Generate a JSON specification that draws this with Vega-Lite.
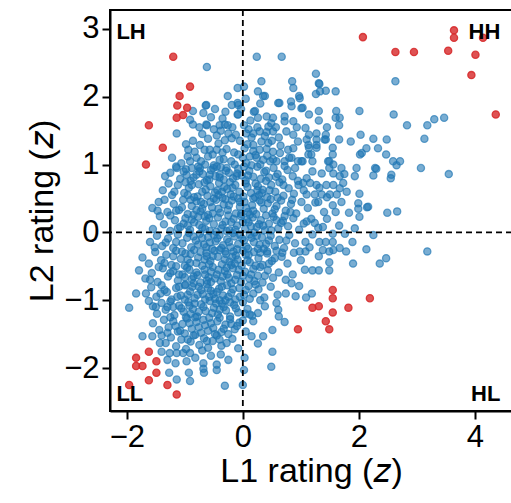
{
"$schema":"https://vega.github.io/schema/vega-lite/v6.json",
"autosize":{"type":"none"},
"padding":{"left":110,"top":10,"right":0,"bottom":92},
"width":402,"height":401,
"config":{"view":{"stroke":"black","strokeWidth":2},"font":"Liberation Sans",
"axis":{"grid":false,"domainColor":"black","domainWidth":2,"tickColor":"black","tickWidth":2,"tickSize":8,"labelFontSize":31,"labelColor":"black","labelFont":"Liberation Sans","titleFont":"Liberation Sans","titleFontSize":34,"titleFontWeight":"normal","titleColor":"black","labelPadding":3,"format":"d"}},
"datasets":{
"blue":[
{"x":-0.62,"y":2.44},{"x":0.24,"y":2.59},{"x":0.67,"y":2.59},{"x":0.02,"y":2.15},{"x":-0.09,"y":2.13},{"x":0.32,"y":2.23},{"x":0.85,"y":2.23},{"x":0.26,"y":2.08},{"x":0.35,"y":2.01},{"x":-0.26,"y":2.01},{"x":1.26,"y":2.34},{"x":1.31,"y":2.2},{"x":1.26,"y":2.04},{"x":1.33,"y":2.08},{"x":1.43,"y":2.09},{"x":1.6,"y":2.08},{"x":2.63,"y":2.23},{"x":0.87,"y":2.13},{"x":0.97,"y":2.01},{"x":1.32,"y":2.19},{"x":0.38,"y":2.01},
{"x":-0.09,"y":1.91},{"x":-0.19,"y":1.88},{"x":-0.64,"y":1.87},{"x":-0.86,"y":1.79},{"x":-0.68,"y":1.76},{"x":-0.91,"y":1.66},{"x":-0.62,"y":1.58},{"x":-0.4,"y":1.58},{"x":-0.26,"y":1.58},{"x":-0.09,"y":1.74},{"x":0.02,"y":1.58},{"x":0.19,"y":1.78},{"x":0.41,"y":1.71},{"x":0.52,"y":1.69},{"x":0.63,"y":1.91},{"x":0.83,"y":1.93},{"x":0.84,"y":1.86},{"x":0.61,"y":1.91},{"x":0.21,"y":1.79},{"x":0.26,"y":1.69},{"x":0.49,"y":1.61},{"x":0.44,"y":1.56},{"x":0.72,"y":1.71},{"x":0.72,"y":1.64},{"x":0.87,"y":1.64},{"x":1.14,"y":1.74},{"x":1.31,"y":1.79},{"x":1.31,"y":1.65},{"x":1.01,"y":1.83},{"x":1.61,"y":1.79},{"x":1.67,"y":1.69},{"x":2.01,"y":1.79},{"x":1.66,"y":1.58},{"x":1.6,"y":1.69},{"x":1.03,"y":1.84},{"x":0.98,"y":1.98},{"x":1.08,"y":1.54},{"x":2.83,"y":1.58},{"x":3.18,"y":1.58},{"x":3.3,"y":1.67},{"x":3.47,"y":1.69},{"x":-0.5,"y":1.52},{"x":-0.35,"y":1.68},{"x":-0.18,"y":1.55},{"x":0.1,"y":1.52},{"x":0.3,"y":1.9},{"x":-0.03,"y":1.82},{"x":0.13,"y":1.65},{"x":0.57,"y":1.55},{"x":-0.75,"y":1.55},{"x":-0.55,"y":1.7},{"x":-0.48,"y":1.82},{"x":1.45,"y":1.55},{"x":0.93,"y":1.55},{"x":0.05,"y":1.97},{"x":-0.3,"y":1.78},{"x":2.6,"y":1.74},
{"x":-0.86,"y":1.59},{"x":-0.63,"y":1.59},{"x":-0.31,"y":1.59},{"x":-1.14,"y":1.46},{"x":-0.45,"y":1.43},{"x":-0.86,"y":1.35},{"x":-0.74,"y":1.29},{"x":-0.66,"y":1.22},{"x":-0.57,"y":1.22},{"x":-0.6,"y":1.12},{"x":-0.45,"y":1.22},{"x":-0.28,"y":1.23},{"x":-0.4,"y":1.07},{"x":-0.51,"y":0.95},{"x":-0.94,"y":1.22},{"x":-0.83,"y":1.19},{"x":-0.8,"y":1.1},{"x":-0.91,"y":1.05},{"x":-1.06,"y":1.02},{"x":-1.14,"y":0.95},{"x":-0.88,"y":0.95},{"x":-0.74,"y":0.95},{"x":-0.97,"y":0.85},{"x":-0.8,"y":0.85},{"x":-0.57,"y":0.85},{"x":-0.4,"y":0.85},{"x":-0.28,"y":0.95},{"x":-0.14,"y":1.0},{"x":-0.08,"y":1.15},{"x":-0.11,"y":0.83},{"x":-0.25,"y":1.46},{"x":-0.19,"y":1.39},{"x":-0.31,"y":1.36},{"x":-0.08,"y":1.88},{"x":-0.08,"y":1.74},{"x":-0.63,"y":1.88},
{"x":0.06,"y":1.46},{"x":0.18,"y":1.46},{"x":0.29,"y":1.49},{"x":0.41,"y":1.48},{"x":0.52,"y":1.49},{"x":0.75,"y":1.49},{"x":0.87,"y":1.44},{"x":0.32,"y":1.34},{"x":0.44,"y":1.32},{"x":0.18,"y":1.29},{"x":0.03,"y":1.24},{"x":0.29,"y":1.22},{"x":0.41,"y":1.23},{"x":0.52,"y":1.19},{"x":0.64,"y":1.17},{"x":0.78,"y":1.22},{"x":0.87,"y":1.24},{"x":0.95,"y":1.34},{"x":1.1,"y":1.37},{"x":1.27,"y":1.29},{"x":1.41,"y":1.37},{"x":1.13,"y":1.29},{"x":0.12,"y":1.12},{"x":0.24,"y":1.1},{"x":0.35,"y":1.07},{"x":0.47,"y":1.05},{"x":0.58,"y":1.05},{"x":0.72,"y":1.05},{"x":0.84,"y":1.1},{"x":0.95,"y":1.05},{"x":1.01,"y":1.05},{"x":1.13,"y":1.15},{"x":1.18,"y":1.15},{"x":1.47,"y":1.05},{"x":1.56,"y":1.0},{"x":1.7,"y":0.95},{"x":1.96,"y":0.95},{"x":2.05,"y":1.17},{"x":2.13,"y":1.24},{"x":2.28,"y":0.95},{"x":2.33,"y":1.24},{"x":3.13,"y":1.38},{"x":2.03,"y":1.44},{"x":2.25,"y":1.38},{"x":2.48,"y":1.37},{"x":2.47,"y":1.15},{"x":2.02,"y":1.15},{"x":2.59,"y":1.05},{"x":2.71,"y":1.05},{"x":2.65,"y":0.99},{"x":1.86,"y":1.34},{"x":1.14,"y":1.44},{"x":1.27,"y":1.46},{"x":1.43,"y":1.44},{"x":1.27,"y":1.37},{"x":1.43,"y":1.37},{"x":1.55,"y":1.25},{"x":1.55,"y":1.15},{"x":1.14,"y":1.25},{"x":1.27,"y":1.25},{"x":1.66,"y":1.37},{"x":1.2,"y":1.05},{"x":1.03,"y":1.05},{"x":1.49,"y":1.05},
{"x":-1.25,"y":0.88},{"x":-1.08,"y":0.79},{"x":-0.98,"y":0.93},{"x":-0.85,"y":0.81},{"x":-0.77,"y":0.97},{"x":-0.69,"y":0.86},{"x":-0.62,"y":0.77},{"x":-0.55,"y":0.92},{"x":-0.47,"y":0.83},{"x":-0.38,"y":0.96},{"x":-0.33,"y":0.78},{"x":-0.24,"y":0.88},{"x":-0.17,"y":0.8},{"x":-0.08,"y":0.94},{"x":-0.02,"y":0.84},{"x":0.05,"y":0.77},{"x":0.11,"y":0.91},{"x":0.18,"y":0.82},{"x":0.25,"y":0.97},{"x":0.31,"y":0.79},{"x":0.37,"y":0.89},{"x":0.45,"y":0.81},{"x":0.53,"y":0.95},{"x":0.6,"y":0.86},{"x":0.68,"y":0.78},{"x":0.77,"y":0.92},{"x":0.86,"y":0.83},{"x":0.95,"y":0.76},{"x":-0.9,"y":0.76},{"x":-0.5,"y":0.99},{"x":0.15,"y":0.99},{"x":0.4,"y":0.76},{"x":-0.29,"y":0.91},{"x":0.02,"y":0.97},{"x":0.72,"y":0.98},{"x":-1.15,"y":0.97},{"x":-1.34,"y":0.83},
{"x":-1.38,"y":0.62},{"x":-1.22,"y":0.55},{"x":-1.12,"y":0.7},{"x":-1.01,"y":0.58},{"x":-0.93,"y":0.66},{"x":-0.84,"y":0.52},{"x":-0.76,"y":0.71},{"x":-0.7,"y":0.6},{"x":-0.61,"y":0.54},{"x":-0.56,"y":0.68},{"x":-0.48,"y":0.59},{"x":-0.41,"y":0.73},{"x":-0.35,"y":0.51},{"x":-0.27,"y":0.64},{"x":-0.21,"y":0.56},{"x":-0.13,"y":0.7},{"x":-0.06,"y":0.6},{"x":0.01,"y":0.53},{"x":0.08,"y":0.67},{"x":0.14,"y":0.58},{"x":0.22,"y":0.72},{"x":0.28,"y":0.55},{"x":0.34,"y":0.63},{"x":0.42,"y":0.52},{"x":0.49,"y":0.7},{"x":0.56,"y":0.6},{"x":0.63,"y":0.74},{"x":0.7,"y":0.54},{"x":0.79,"y":0.65},{"x":0.88,"y":0.57},{"x":0.96,"y":0.7},{"x":1.05,"y":0.62},{"x":1.32,"y":0.66},{"x":1.45,"y":0.52},{"x":-0.99,"y":0.74},{"x":-0.44,"y":0.62},{"x":0.18,"y":0.5},{"x":-0.16,"y":0.53},{"x":0.6,"y":0.51},{"x":-0.66,"y":0.74},
{"x":-1.56,"y":0.36},{"x":-1.45,"y":0.45},{"x":-1.3,"y":0.3},{"x":-1.19,"y":0.42},{"x":-1.1,"y":0.33},{"x":-1.03,"y":0.48},{"x":-0.95,"y":0.27},{"x":-0.88,"y":0.39},{"x":-0.8,"y":0.46},{"x":-0.73,"y":0.31},{"x":-0.67,"y":0.42},{"x":-0.6,"y":0.26},{"x":-0.53,"y":0.37},{"x":-0.46,"y":0.48},{"x":-0.39,"y":0.29},{"x":-0.33,"y":0.41},{"x":-0.26,"y":0.33},{"x":-0.19,"y":0.47},{"x":-0.12,"y":0.28},{"x":-0.05,"y":0.38},{"x":0.03,"y":0.45},{"x":0.09,"y":0.3},{"x":0.16,"y":0.4},{"x":0.23,"y":0.27},{"x":0.29,"y":0.47},{"x":0.36,"y":0.35},{"x":0.43,"y":0.43},{"x":0.51,"y":0.28},{"x":0.58,"y":0.39},{"x":0.66,"y":0.47},{"x":0.74,"y":0.32},{"x":0.83,"y":0.42},{"x":0.92,"y":0.28},{"x":1.01,"y":0.45},{"x":1.12,"y":0.36},{"x":1.25,"y":0.44},{"x":1.4,"y":0.3},{"x":-0.85,"y":0.26},{"x":-0.3,"y":0.49},{"x":0.12,"y":0.26},{"x":0.48,"y":0.49},{"x":-1.35,"y":0.48},{"x":-0.03,"y":0.27},
{"x":-1.55,"y":0.05},{"x":-1.43,"y":0.24},{"x":-1.36,"y":0.12},{"x":-1.25,"y":0.02},{"x":-1.17,"y":0.18},{"x":-1.08,"y":0.08},{"x":-0.99,"y":0.21},{"x":-0.91,"y":0.04},{"x":-0.84,"y":0.15},{"x":-0.77,"y":0.23},{"x":-0.7,"y":0.07},{"x":-0.63,"y":0.17},{"x":-0.57,"y":0.02},{"x":-0.5,"y":0.12},{"x":-0.43,"y":0.22},{"x":-0.37,"y":0.06},{"x":-0.3,"y":0.16},{"x":-0.23,"y":0.03},{"x":-0.16,"y":0.2},{"x":-0.1,"y":0.1},{"x":-0.03,"y":0.24},{"x":0.04,"y":0.05},{"x":0.1,"y":0.15},{"x":0.17,"y":0.22},{"x":0.24,"y":0.08},{"x":0.31,"y":0.18},{"x":0.38,"y":0.03},{"x":0.45,"y":0.13},{"x":0.53,"y":0.23},{"x":0.61,"y":0.06},{"x":0.69,"y":0.17},{"x":0.78,"y":0.09},{"x":0.87,"y":0.21},{"x":0.97,"y":0.04},{"x":1.05,"y":0.13},{"x":1.18,"y":0.2},{"x":1.3,"y":0.07},{"x":-1.02,"y":0.13},{"x":-0.46,"y":0.01},{"x":0.2,"y":0.0},{"x":-0.66,"y":0.24},{"x":0.72,"y":0.24},
{"x":-1.6,"y":-0.14},{"x":-1.48,"y":-0.05},{"x":-1.39,"y":-0.2},{"x":-1.29,"y":-0.09},{"x":-1.2,"y":-0.23},{"x":-1.12,"y":-0.03},{"x":-1.04,"y":-0.16},{"x":-0.96,"y":-0.08},{"x":-0.89,"y":-0.22},{"x":-0.81,"y":-0.12},{"x":-0.74,"y":-0.02},{"x":-0.67,"y":-0.18},{"x":-0.6,"y":-0.07},{"x":-0.53,"y":-0.24},{"x":-0.47,"y":-0.13},{"x":-0.4,"y":-0.04},{"x":-0.34,"y":-0.19},{"x":-0.27,"y":-0.1},{"x":-0.21,"y":-0.22},{"x":-0.14,"y":-0.06},{"x":-0.08,"y":-0.17},{"x":-0.01,"y":-0.09},{"x":0.06,"y":-0.21},{"x":0.12,"y":-0.03},{"x":0.19,"y":-0.14},{"x":0.26,"y":-0.24},{"x":0.33,"y":-0.07},{"x":0.4,"y":-0.17},{"x":0.48,"y":-0.05},{"x":0.55,"y":-0.2},{"x":0.63,"y":-0.11},{"x":0.71,"y":-0.23},{"x":0.8,"y":-0.04},{"x":0.9,"y":-0.16},{"x":1.15,"y":-0.22},{"x":-0.93,"y":-0.01},{"x":-0.17,"y":-0.01},{"x":0.36,"y":-0.24},{"x":-0.57,"y":-0.15},{"x":0.02,"y":-0.12},
{"x":-1.73,"y":-0.37},{"x":-1.62,"y":-0.46},{"x":-1.51,"y":-0.29},{"x":-1.41,"y":-0.41},{"x":-1.32,"y":-0.33},{"x":-1.23,"y":-0.48},{"x":-1.15,"y":-0.27},{"x":-1.07,"y":-0.39},{"x":-0.99,"y":-0.31},{"x":-0.91,"y":-0.45},{"x":-0.84,"y":-0.26},{"x":-0.77,"y":-0.37},{"x":-0.7,"y":-0.49},{"x":-0.63,"y":-0.3},{"x":-0.56,"y":-0.42},{"x":-0.49,"y":-0.27},{"x":-0.43,"y":-0.36},{"x":-0.36,"y":-0.47},{"x":-0.29,"y":-0.32},{"x":-0.23,"y":-0.43},{"x":-0.16,"y":-0.28},{"x":-0.09,"y":-0.4},{"x":-0.02,"y":-0.49},{"x":0.05,"y":-0.33},{"x":0.12,"y":-0.44},{"x":0.19,"y":-0.29},{"x":0.27,"y":-0.38},{"x":0.34,"y":-0.48},{"x":0.42,"y":-0.31},{"x":0.5,"y":-0.42},{"x":0.58,"y":-0.27},{"x":0.67,"y":-0.36},{"x":0.77,"y":-0.46},{"x":0.88,"y":-0.3},{"x":1.0,"y":-0.41},{"x":-1.0,"y":-0.49},{"x":-0.4,"y":-0.26},{"x":0.22,"y":-0.49},{"x":-0.66,"y":-0.4},{"x":0.0,"y":-0.27},
{"x":-1.79,"y":-0.56},{"x":-1.68,"y":-0.68},{"x":-1.57,"y":-0.6},{"x":-1.47,"y":-0.73},{"x":-1.38,"y":-0.53},{"x":-1.29,"y":-0.65},{"x":-1.2,"y":-0.57},{"x":-1.12,"y":-0.71},{"x":-1.04,"y":-0.62},{"x":-0.96,"y":-0.52},{"x":-0.88,"y":-0.69},{"x":-0.8,"y":-0.59},{"x":-0.73,"y":-0.74},{"x":-0.66,"y":-0.55},{"x":-0.59,"y":-0.66},{"x":-0.52,"y":-0.51},{"x":-0.45,"y":-0.62},{"x":-0.38,"y":-0.72},{"x":-0.31,"y":-0.57},{"x":-0.24,"y":-0.67},{"x":-0.17,"y":-0.53},{"x":-0.1,"y":-0.63},{"x":-0.03,"y":-0.73},{"x":0.04,"y":-0.58},{"x":0.11,"y":-0.68},{"x":0.18,"y":-0.54},{"x":0.26,"y":-0.64},{"x":0.34,"y":-0.74},{"x":0.43,"y":-0.56},{"x":0.52,"y":-0.67},{"x":0.62,"y":-0.59},{"x":0.74,"y":-0.7},{"x":0.86,"y":-0.62},{"x":-0.85,"y":-0.75},{"x":-0.2,"y":-0.75},{"x":0.3,"y":-0.51},{"x":-1.45,"y":-0.51},{"x":-0.55,"y":-0.73},
{"x":-1.84,"y":-0.9},{"x":-1.67,"y":-0.9},{"x":-1.58,"y":-0.81},{"x":-1.49,"y":-0.95},{"x":-1.4,"y":-0.78},{"x":-1.31,"y":-0.88},{"x":-1.23,"y":-0.99},{"x":-1.15,"y":-0.82},{"x":-1.07,"y":-0.93},{"x":-0.99,"y":-0.77},{"x":-0.91,"y":-0.87},{"x":-0.83,"y":-0.97},{"x":-0.76,"y":-0.8},{"x":-0.69,"y":-0.91},{"x":-0.62,"y":-0.76},{"x":-0.55,"y":-0.86},{"x":-0.48,"y":-0.98},{"x":-0.41,"y":-0.83},{"x":-0.34,"y":-0.93},{"x":-0.27,"y":-0.78},{"x":-0.2,"y":-0.89},{"x":-0.13,"y":-0.99},{"x":-0.06,"y":-0.82},{"x":0.02,"y":-0.92},{"x":0.1,"y":-0.79},{"x":0.18,"y":-0.9},{"x":0.27,"y":-0.84},{"x":0.37,"y":-0.96},{"x":0.48,"y":-0.8},{"x":0.6,"y":-0.92},{"x":-1.0,"y":-0.99},{"x":-0.3,"y":-1.0},{"x":-0.65,"y":-0.99},
{"x":-1.96,"y":-1.11},{"x":-1.55,"y":-1.09},{"x":-1.4,"y":-1.04},{"x":-1.48,"y":-1.2},{"x":-1.33,"y":-1.14},{"x":-1.25,"y":-1.02},{"x":-1.18,"y":-1.22},{"x":-1.1,"y":-1.08},{"x":-1.02,"y":-1.17},{"x":-0.94,"y":-1.03},{"x":-0.86,"y":-1.13},{"x":-0.79,"y":-1.24},{"x":-0.72,"y":-1.06},{"x":-0.64,"y":-1.16},{"x":-0.57,"y":-1.01},{"x":-0.5,"y":-1.11},{"x":-0.43,"y":-1.21},{"x":-0.36,"y":-1.05},{"x":-0.29,"y":-1.15},{"x":-0.22,"y":-1.24},{"x":-0.15,"y":-1.07},{"x":-0.08,"y":-1.18},{"x":0.0,"y":-1.03},{"x":0.08,"y":-1.13},{"x":0.16,"y":-1.23},{"x":-1.62,"y":-1.01},{"x":-0.98,"y":-1.25},{"x":-0.4,"y":-1.0},
{"x":-1.73,"y":-1.53},{"x":-1.56,"y":-1.53},{"x":-1.55,"y":-1.34},{"x":-1.44,"y":-1.44},{"x":-1.36,"y":-1.29},{"x":-1.28,"y":-1.4},{"x":-1.2,"y":-1.31},{"x":-1.12,"y":-1.46},{"x":-1.04,"y":-1.35},{"x":-0.96,"y":-1.27},{"x":-0.88,"y":-1.42},{"x":-0.8,"y":-1.32},{"x":-0.72,"y":-1.48},{"x":-0.65,"y":-1.37},{"x":-0.58,"y":-1.26},{"x":-0.51,"y":-1.41},{"x":-0.44,"y":-1.31},{"x":-0.37,"y":-1.47},{"x":-0.3,"y":-1.36},{"x":-0.22,"y":-1.28},{"x":-0.14,"y":-1.43},{"x":-0.06,"y":-1.33},{"x":0.05,"y":-1.46},{"x":-1.0,"y":-1.49},{"x":-0.4,"y":-1.26},
{"x":-1.43,"y":-1.63},{"x":-1.33,"y":-1.63},{"x":-1.4,"y":-1.76},{"x":-1.24,"y":-1.55},{"x":-1.15,"y":-1.68},{"x":-1.06,"y":-1.58},{"x":-0.98,"y":-1.72},{"x":-0.9,"y":-1.61},{"x":-0.82,"y":-1.51},{"x":-0.75,"y":-1.66},{"x":-0.67,"y":-1.56},{"x":-0.6,"y":-1.7},{"x":-0.52,"y":-1.6},{"x":-0.45,"y":-1.52},{"x":-0.37,"y":-1.67},{"x":-0.28,"y":-1.63},{"x":-0.18,"y":-1.57},{"x":-0.08,"y":-1.71},{"x":-0.7,"y":-1.74},
{"x":-1.26,"y":-1.78},{"x":-1.14,"y":-1.78},{"x":-1.03,"y":-1.78},{"x":-0.91,"y":-1.78},{"x":-1.16,"y":-1.93},{"x":-0.97,"y":-1.9},{"x":-0.68,"y":-1.93},{"x":-0.82,"y":-1.85},{"x":-0.55,"y":-1.82},{"x":-0.45,"y":-1.95},{"x":-0.38,"y":-1.8},{"x":-0.25,"y":-1.88},{"x":-1.3,"y":-1.88},
{"x":-1.27,"y":-2.07},{"x":-1.14,"y":-2.17},{"x":-0.91,"y":-2.19},{"x":-0.93,"y":-2.07},{"x":-0.68,"y":-2.01},{"x":-0.67,"y":-2.07},{"x":-0.45,"y":-2.03},{"x":-0.31,"y":-2.26},{"x":0.0,"y":-2.25},{"x":0.02,"y":-2.03},{"x":0.03,"y":-1.85},
{"x":0.51,"y":-1.44},{"x":0.35,"y":-1.53},{"x":0.26,"y":-1.64},{"x":0.51,"y":-1.76},{"x":0.49,"y":-1.98},{"x":0.15,"y":-1.53},{"x":0.72,"y":-1.32},{"x":0.62,"y":-1.24},{"x":0.91,"y":-0.94},{"x":1.09,"y":-0.96},{"x":1.19,"y":-0.9},{"x":0.97,"y":-0.79},{"x":0.84,"y":-0.75},{"x":0.74,"y":-0.9},{"x":0.58,"y":-1.04},{"x":0.61,"y":-1.14},{"x":0.38,"y":-1.09},{"x":0.26,"y":-1.19},{"x":0.18,"y":-1.31},{"x":0.12,"y":-1.21},{"x":1.2,"y":-0.56},{"x":1.31,"y":-0.56},{"x":1.07,"y":-0.55},{"x":1.49,"y":-0.44},{"x":1.49,"y":-0.56},{"x":1.31,"y":-0.35},{"x":1.08,"y":-0.28},{"x":0.98,"y":-0.28},{"x":1.67,"y":-0.23},{"x":1.56,"y":-0.26},{"x":1.49,"y":-0.28},{"x":1.38,"y":-0.26},{"x":1.32,"y":-0.14},{"x":1.43,"y":-0.14},{"x":1.55,"y":-0.14},{"x":1.08,"y":-0.14},{"x":1.66,"y":0.1},{"x":1.76,"y":-0.02},{"x":1.55,"y":-0.02},{"x":1.89,"y":-0.14},{"x":1.78,"y":-0.28},{"x":1.9,"y":-0.46},{"x":2.13,"y":-0.25},{"x":2.25,"y":-0.04},{"x":1.93,"y":0.06},{"x":2.36,"y":-0.46},{"x":2.47,"y":-0.38},{"x":3.18,"y":-0.28},{"x":1.2,"y":-0.03},{"x":1.24,"y":0.14},{"x":1.1,"y":0.16},{"x":1.38,"y":0.08},
{"x":2.49,"y":0.29},{"x":2.66,"y":0.31},{"x":2.14,"y":0.37},{"x":2.01,"y":0.23},{"x":1.83,"y":0.29},{"x":1.99,"y":0.35},{"x":1.99,"y":0.43},{"x":2.16,"y":0.38},{"x":2.01,"y":0.57},{"x":1.93,"y":0.83},{"x":1.73,"y":0.73},{"x":1.67,"y":0.65},{"x":1.79,"y":0.6},{"x":1.62,"y":0.56},{"x":1.5,"y":0.56},{"x":1.36,"y":0.56},{"x":1.24,"y":0.56},{"x":1.1,"y":0.56},{"x":1.04,"y":0.73},{"x":1.16,"y":0.73},{"x":1.27,"y":0.7},{"x":1.44,"y":0.7},{"x":1.56,"y":0.7},{"x":1.36,"y":0.87},{"x":1.56,"y":0.87},{"x":1.75,"y":0.86},{"x":1.49,"y":0.95},{"x":2.3,"y":0.94},{"x":2.25,"y":0.84},{"x":2.56,"y":0.85},{"x":2.55,"y":0.8},{"x":3.07,"y":0.95},{"x":3.55,"y":0.86},{"x":1.67,"y":0.83},{"x":1.55,"y":0.4},{"x":1.7,"y":0.45},{"x":1.45,"y":0.2},{"x":1.6,"y":0.3},{"x":1.2,"y":0.9},{"x":1.1,"y":0.8},{"x":1.3,"y":0.45},
{"x":-0.95,"y":1.12},{"x":-0.72,"y":1.05},{"x":-0.52,"y":1.15},{"x":-0.33,"y":1.08},{"x":-0.15,"y":1.18},{"x":0.06,"y":1.02},{"x":0.22,"y":1.14},{"x":0.42,"y":1.13},{"x":0.65,"y":1.28},{"x":-0.6,"y":1.38},{"x":-0.42,"y":1.31},{"x":-0.05,"y":1.35},{"x":0.15,"y":1.4},{"x":0.5,"y":1.35},
{"x":-0.88,"y":0.7},{"x":-0.64,"y":0.63},{"x":-0.4,"y":0.81},{"x":-0.22,"y":0.74},{"x":-0.1,"y":0.87},{"x":0.09,"y":0.84},{"x":0.26,"y":0.68},{"x":0.4,"y":0.91},{"x":0.57,"y":0.82},{"x":-0.75,"y":0.9},{"x":-0.32,"y":0.67},{"x":0.33,"y":0.58},
{"x":-1.05,"y":0.37},{"x":-0.78,"y":0.53},{"x":-0.56,"y":0.45},{"x":-0.24,"y":0.4},{"x":-0.08,"y":0.5},{"x":0.06,"y":0.36},{"x":0.32,"y":0.44},{"x":0.55,"y":0.34},{"x":-0.7,"y":0.35},{"x":-0.42,"y":0.55},{"x":0.21,"y":0.52},{"x":-0.9,"y":0.48},
{"x":-1.12,"y":0.06},{"x":-0.88,"y":0.19},{"x":-0.58,"y":0.21},{"x":-0.35,"y":0.11},{"x":-0.13,"y":0.04},{"x":0.07,"y":0.19},{"x":0.28,"y":0.12},{"x":0.49,"y":0.03},{"x":0.66,"y":0.14},{"x":-0.75,"y":0.11},{"x":-0.25,"y":0.25},{"x":0.14,"y":0.09},
{"x":-1.15,"y":-0.14},{"x":-0.85,"y":-0.06},{"x":-0.63,"y":-0.22},{"x":-0.44,"y":-0.09},{"x":-0.24,"y":-0.14},{"x":-0.05,"y":-0.03},{"x":0.15,"y":-0.08},{"x":0.29,"y":-0.18},{"x":0.45,"y":-0.12},{"x":-0.77,"y":-0.18},{"x":-0.37,"y":-0.23},{"x":0.09,"y":-0.24},
{"x":-1.2,"y":-0.35},{"x":-0.95,"y":-0.4},{"x":-0.73,"y":-0.29},{"x":-0.52,"y":-0.35},{"x":-0.31,"y":-0.4},{"x":-0.12,"y":-0.34},{"x":0.08,"y":-0.41},{"x":0.3,"y":-0.3},{"x":0.55,"y":-0.38},{"x":-0.8,"y":-0.45},{"x":-0.2,"y":-0.48},{"x":-0.58,"y":-0.47},
{"x":-1.25,"y":-0.6},{"x":-1.0,"y":-0.66},{"x":-0.78,"y":-0.63},{"x":-0.62,"y":-0.71},{"x":-0.42,"y":-0.55},{"x":-0.27,"y":-0.62},{"x":-0.07,"y":-0.55},{"x":0.14,"y":-0.62},{"x":0.38,"y":-0.64},{"x":-0.92,"y":-0.55},{"x":-0.48,"y":-0.68},{"x":-0.13,"y":-0.7},
{"x":-1.35,"y":-0.85},{"x":-1.1,"y":-0.8},{"x":-0.87,"y":-0.8},{"x":-0.72,"y":-0.85},{"x":-0.51,"y":-0.91},{"x":-0.36,"y":-0.8},{"x":-0.17,"y":-0.84},{"x":0.05,"y":-0.85},{"x":0.22,"y":-0.77},{"x":-0.95,"y":-0.92},{"x":-0.6,"y":-0.82},{"x":-0.25,"y":-0.95},
{"x":-1.3,"y":-1.1},{"x":-1.06,"y":-1.12},{"x":-0.9,"y":-1.2},{"x":-0.68,"y":-1.1},{"x":-0.53,"y":-1.19},{"x":-0.33,"y":-1.1},{"x":-0.12,"y":-1.12},{"x":0.04,"y":-1.2},{"x":-0.76,"y":-1.17},{"x":-0.46,"y":-1.05},
{"x":-1.16,"y":-1.38},{"x":-0.92,"y":-1.34},{"x":-0.76,"y":-1.4},{"x":-0.55,"y":-1.34},{"x":-0.33,"y":-1.42},{"x":-0.1,"y":-1.38},{"x":-0.68,"y":-1.29},{"x":-0.85,"y":-1.52},{"x":-0.62,"y":-1.6},{"x":-0.4,"y":-1.58},
{"x":-0.7,"y":1.45},{"x":-0.38,"y":1.5},{"x":-0.12,"y":1.44},{"x":0.25,"y":1.55},{"x":0.62,"y":1.4},{"x":-0.98,"y":1.3},{"x":0.08,"y":1.3},{"x":0.38,"y":1.42},
{"x":-1.22,"y":1.1},{"x":-1.02,"y":0.9},{"x":-0.65,"y":1.0},{"x":-0.45,"y":0.97},{"x":-0.2,"y":1.05},{"x":0.0,"y":1.1},{"x":0.3,"y":1.0},{"x":0.52,"y":1.08},{"x":0.8,"y":1.1},{"x":0.9,"y":0.95},{"x":-0.35,"y":1.18},{"x":0.18,"y":1.2},
{"x":-1.28,"y":0.72},{"x":-1.18,"y":0.6},{"x":-0.95,"y":0.55},{"x":-0.58,"y":0.78},{"x":-0.36,"y":0.6},{"x":-0.18,"y":0.66},{"x":0.05,"y":0.72},{"x":0.25,"y":0.62},{"x":0.46,"y":0.62},{"x":0.7,"y":0.7},{"x":0.85,"y":0.48},{"x":-0.5,"y":0.5},{"x":-0.05,"y":0.45},{"x":-0.72,"y":0.45},
{"x":-1.47,"y":0.32},{"x":-1.25,"y":0.25},{"x":-1.15,"y":0.32},{"x":-0.95,"y":0.1},{"x":-0.8,"y":0.33},{"x":-0.52,"y":0.28},{"x":-0.42,"y":0.35},{"x":-0.2,"y":0.15},{"x":0.0,"y":0.15},{"x":0.18,"y":0.32},{"x":0.4,"y":0.25},{"x":0.58,"y":0.18},{"x":0.82,"y":0.3},{"x":-0.65,"y":0.05},{"x":-0.28,"y":0.02},{"x":0.35,"y":0.1},
{"x":-1.52,"y":-0.22},{"x":-1.33,"y":-0.15},{"x":-1.05,"y":-0.28},{"x":-0.9,"y":-0.32},{"x":-0.7,"y":-0.08},{"x":-0.5,"y":-0.04},{"x":-0.3,"y":-0.28},{"x":-0.1,"y":-0.25},{"x":0.1,"y":-0.33},{"x":0.24,"y":-0.05},{"x":0.42,"y":-0.28},{"x":0.68,"y":-0.3},{"x":-0.62,"y":-0.35},{"x":-0.18,"y":-0.36},{"x":0.75,"y":-0.12},
{"x":-1.6,"y":-0.7},{"x":-1.35,"y":-0.45},{"x":-1.15,"y":-0.5},{"x":-1.1,"y":-0.62},{"x":-0.85,"y":-0.65},{"x":-0.65,"y":-0.62},{"x":-0.35,"y":-0.65},{"x":-0.14,"y":-0.46},{"x":0.0,"y":-0.64},{"x":0.2,"y":-0.72},{"x":0.45,"y":-0.46},{"x":-0.55,"y":-0.58},{"x":-0.28,"y":-0.52},{"x":-1.0,"y":-0.78},
{"x":-1.5,"y":-1.1},{"x":-1.42,"y":-0.9},{"x":-1.2,"y":-1.1},{"x":-1.13,"y":-0.95},{"x":-0.83,"y":-1.05},{"x":-0.78,"y":-0.92},{"x":-0.58,"y":-0.95},{"x":-0.4,"y":-1.14},{"x":-0.22,"y":-1.03},{"x":-0.05,"y":-0.95},{"x":0.12,"y":-0.98},{"x":0.3,"y":-1.0},{"x":-0.92,"y":-1.08},{"x":-0.45,"y":-0.88},
{"x":-1.4,"y":-1.52},{"x":-1.25,"y":-1.25},{"x":-1.08,"y":-1.45},{"x":-0.82,"y":-1.25},{"x":-0.6,"y":-1.45},{"x":-0.48,"y":-1.5},{"x":-0.25,"y":-1.5},{"x":-0.2,"y":-1.35},{"x":0.0,"y":-1.3},{"x":-1.3,"y":-1.48},{"x":-0.95,"y":-1.58}
],
"red":[
{"x":-1.2,"y":2.59},{"x":-0.91,"y":2.15},{"x":-1.09,"y":2.01},{"x":-1.13,"y":1.87},{"x":-0.96,"y":1.84},{"x":-1.03,"y":1.73},{"x":-1.14,"y":1.69},{"x":-1.62,"y":1.58},{"x":-1.38,"y":1.25},{"x":-1.67,"y":1.0},
{"x":2.07,"y":2.88},{"x":2.63,"y":2.66},{"x":2.95,"y":2.66},{"x":3.54,"y":2.68},{"x":3.64,"y":2.98},{"x":3.64,"y":2.87},{"x":4.14,"y":2.87},{"x":4.01,"y":2.62},{"x":3.94,"y":2.32},{"x":4.36,"y":1.74},
{"x":-1.62,"y":-1.76},{"x":-1.84,"y":-1.85},{"x":-1.84,"y":-1.97},{"x":-1.73,"y":-1.97},{"x":-1.49,"y":-1.9},{"x":-1.49,"y":-2.07},{"x":-1.62,"y":-2.18},{"x":-1.96,"y":-2.25},{"x":-1.3,"y":-2.25},{"x":-1.14,"y":-2.39},
{"x":0.95,"y":-1.43},{"x":1.55,"y":-0.85},{"x":1.55,"y":-0.97},{"x":2.19,"y":-0.97},{"x":1.2,"y":-1.11},{"x":1.31,"y":-1.09},{"x":1.82,"y":-1.11},{"x":1.55,"y":-1.18},{"x":1.43,"y":-1.31},{"x":1.49,"y":-1.43}
],
"labL":[{"x":-2.18,"y":2.96,"t":"LH"},{"x":-2.18,"y":-2.39,"t":"LL"}],
"labR":[{"x":4.44,"y":2.96,"t":"HH"},{"x":4.44,"y":-2.39,"t":"HL"}],
"one":[{"z":0}]},
"layer":[
{"data":{"name":"blue"},"mark":{"type":"point","filled":true,"shape":"circle","size":52,"color":"#1f77b4","fillOpacity":0.6,"stroke":"#1f77b4","strokeWidth":1.3,"strokeOpacity":0.65},
"encoding":{"x":{"field":"x","type":"quantitative","scale":{"domain":[-2.29,4.64],"nice":false,"zero":false},"axis":{"values":[-2,0,2,4],"title":"L1 rating (𝑧)","titlePadding":2}},
"y":{"field":"y","type":"quantitative","scale":{"domain":[-2.634,3.28],"nice":false,"zero":false},"axis":{"values":[-2,-1,0,1,2,3],"title":"L2 rating (𝑧)","titlePadding":4}}}},
{"data":{"name":"red"},"mark":{"type":"point","filled":true,"shape":"circle","size":52,"fill":"#d62728","fillOpacity":0.8,"stroke":"#d62728","strokeWidth":1.3,"strokeOpacity":0.85},
"encoding":{"x":{"field":"x","type":"quantitative"},"y":{"field":"y","type":"quantitative"}}},
{"data":{"name":"one"},"mark":{"type":"rule","color":"black","strokeWidth":1.8,"strokeDash":[6,4]},"encoding":{"x":{"field":"z","type":"quantitative"}}},
{"data":{"name":"one"},"mark":{"type":"rule","color":"black","strokeWidth":1.8,"strokeDash":[6,4]},"encoding":{"y":{"field":"z","type":"quantitative"}}},
{"data":{"name":"labL"},"mark":{"type":"text","fontSize":22,"fontWeight":"bold","color":"black","baseline":"middle","align":"left","font":"Liberation Sans"},
"encoding":{"x":{"field":"x","type":"quantitative"},"y":{"field":"y","type":"quantitative"},"text":{"field":"t"}}},
{"data":{"name":"labR"},"mark":{"type":"text","fontSize":22,"fontWeight":"bold","color":"black","baseline":"middle","align":"right","font":"Liberation Sans"},
"encoding":{"x":{"field":"x","type":"quantitative"},"y":{"field":"y","type":"quantitative"},"text":{"field":"t"}}}
]
}
